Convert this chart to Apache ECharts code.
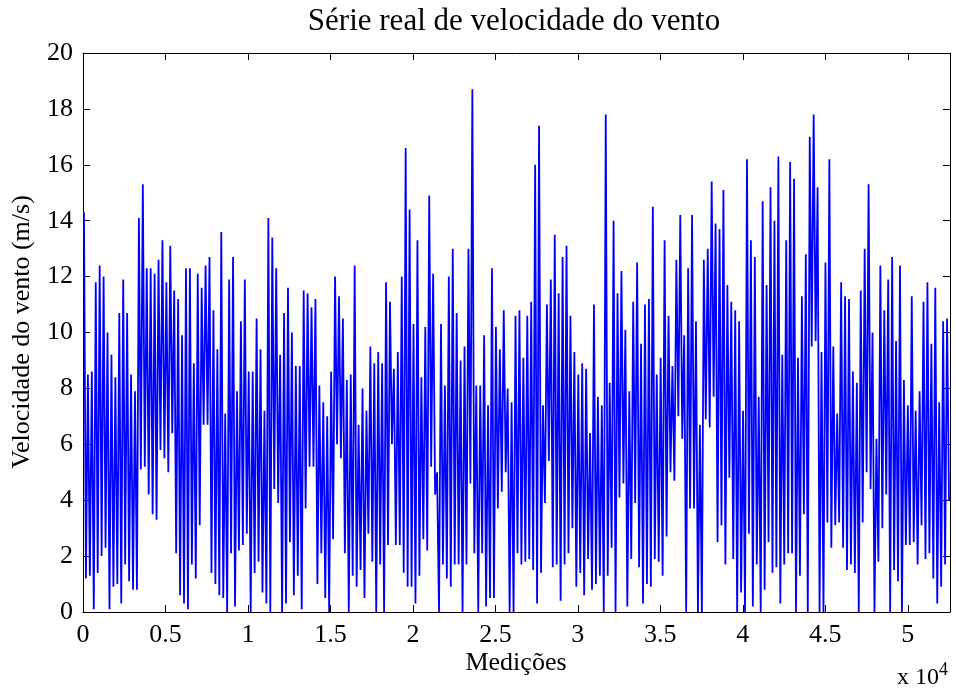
<!DOCTYPE html>
<html>
<head>
<meta charset="utf-8">
<title>Série real de velocidade do vento</title>
<script src="https://cdn.jsdelivr.net/npm/echarts@6/dist/echarts.min.js"></script>
<style>
    html, body { margin: 0; padding: 0; background: #fff; }
    #chart { width: 956px; height: 695px; }
</style>
</head>
<body>
<div id="chart"></div>
<script>
var totalMedicoes = 52560;
var xTicks = [0, 5000, 10000, 15000, 20000, 25000, 30000, 35000, 40000, 45000, 50000];
var yTicks = [0, 2, 4, 6, 8, 10, 12, 14, 16, 18, 20];

var picos = [
    14.3, 8.5, 8.6, 11.8, 12.4, 12.0, 10.0, 9.2, 8.4, 10.7, 11.9, 10.7, 8.5, 7.9, 14.1, 15.3, 12.3, 12.3, 12.1, 12.6, 13.3, 11.8, 13.1, 11.5, 11.2, 9.9, 12.3,
    12.3, 8.9, 12.1, 11.6, 12.4, 12.7, 10.8, 9.4, 13.6, 7.1, 11.9, 12.7, 7.9, 10.4, 11.9, 8.6, 8.6, 10.5, 9.4, 7.2, 14.1, 13.4, 12.3, 9.2, 10.7, 11.6, 10.0, 8.8,
    8.8, 11.5, 11.4, 10.9, 11.2, 8.1, 7.5, 7.0, 8.6, 12.0, 11.3, 10.5, 8.3, 8.5, 12.4, 6.7, 8.0, 7.2, 9.5, 8.9, 9.3, 8.9, 11.8, 11.1, 8.7, 9.3, 12.0, 16.6,
    14.4, 10.3, 13.3, 8.4, 10.2, 14.9, 12.1, 5.0, 10.3, 8.1, 12.0, 13.0, 10.7, 9.0, 9.5, 13.0, 18.7, 8.1, 8.1, 9.9, 7.4, 12.3, 10.2, 9.4, 10.8, 8.0, 7.5, 10.6,
    10.8, 9.1, 10.6, 11.1, 16.0, 17.4, 7.4, 11.0, 11.9, 13.5, 11.4, 12.7, 13.1, 10.6, 9.3, 8.5, 8.9, 8.7, 6.4, 11.0, 7.7, 7.4, 17.8, 8.2, 14.0, 11.4, 12.2, 10.1,
    7.9, 11.1, 12.5, 9.6, 11.0, 11.2, 14.5, 8.5, 9.1, 13.3, 10.6, 8.8, 12.6, 14.2, 9.9, 12.3, 14.2, 10.4, 6.7, 12.6, 13.0, 15.4, 13.9, 13.7, 15.1, 11.7, 11.1, 10.8,
    10.4, 7.2, 16.2, 13.3, 12.7, 7.7, 14.7, 11.7, 15.2, 14.0, 16.3, 9.2, 13.3, 16.1, 15.5, 9.1, 11.3, 12.8, 17.0, 17.8, 15.2, 9.3, 12.5, 16.2, 9.5, 7.1, 11.8, 11.3,
    11.2, 8.6, 8.2, 11.5, 13.0, 15.3, 10.0, 6.2, 12.4, 10.8, 11.9, 12.7, 9.7, 12.4, 8.3, 7.4, 11.3, 7.2, 7.9, 11.1, 11.8, 9.6, 11.6, 7.5, 10.4, 10.5
];
var vales = [
    1.2, 1.3, 0.1, 1.4, 2.0, 2.3, 0.1, 0.9, 1.0, 0.3, 1.7, 1.1, 0.8, 0.8, 5.1, 5.2, 4.2, 3.5, 3.3, 5.8, 5.5, 5.0, 6.4, 2.1, 0.6, 0.3, 0.1,
    1.7, 1.2, 3.1, 6.7, 6.7, 1.4, 1.0, 0.6, 0.5, 0.0, 2.1, 0.2, 2.2, 2.4, 2.8, 0.0, 1.4, 1.8, 0.7, 0.3, 0.0, 4.4, 3.9, 0.0, 0.3, 2.5, 0.6, 1.3,
    0.1, 3.7, 5.2, 5.2, 1.0, 2.1, 0.5, 0.0, 2.6, 6.0, 5.5, 2.1, 0.0, 1.3, 0.9, 1.5, 0.5, 2.8, 1.8, 0.0, 1.7, 0.0, 2.4, 6.0, 2.4, 2.4, 1.4, 0.9,
    0.9, 0.3, 1.3, 2.6, 2.2, 5.2, 4.2, 0.0, 1.7, 1.2, 0.9, 1.7, 1.7, 0.0, 1.7, 4.6, 2.1, 0.0, 2.1, 0.2, 0.5, 0.5, 3.7, 4.3, 5.0, 0.0, 0.0, 2.1,
    1.7, 1.8, 1.9, 1.5, 0.3, 1.4, 3.9, 5.4, 1.6, 1.7, 0.4, 1.7, 2.1, 3.0, 0.9, 1.4, 0.6, 1.9, 0.8, 1.0, 1.3, 0.0, 1.3, 2.3, 0.0, 4.1, 4.6, 0.2,
    1.9, 3.9, 1.6, 0.3, 1.0, 0.9, 1.9, 1.8, 1.3, 2.7, 5.0, 4.7, 7.0, 6.2, 0.0, 3.7, 3.7, 0.0, 0.0, 6.9, 6.6, 7.7, 2.5, 3.1, 1.7, 4.8, 1.9, 0.0,
    0.7, 0.0, 2.8, 0.2, 1.7, 0.0, 0.8, 2.5, 1.4, 1.6, 0.3, 1.7, 2.1, 2.1, 0.0, 1.3, 3.5, 0.0, 9.5, 9.7, 0.0, 0.0, 3.2, 2.3, 3.1, 3.2, 2.3, 1.5,
    1.7, 1.4, 0.0, 3.2, 5.0, 4.4, 0.0, 1.8, 3.0, 4.2, 0.0, 1.5, 1.1, 0.0, 2.4, 2.4, 2.5, 1.7, 3.1, 1.9, 2.1, 1.2, 0.3, 0.9, 1.7, 4.0
];

/*== monta a série: pico e vale alternados em cada trecho ==*/
var passo = totalMedicoes / picos.length;
var serie = [];
for (var i = 0; i < picos.length; i++) {
    serie.push([(i + 0.25) * passo, picos[i]]);
    serie.push([(i + 0.75) * passo, vales[i]]);
}

// copia as opções base do eixo e acrescenta as extras
function copia(base, extra) {
    var out = JSON.parse(JSON.stringify(base));
    for (var k in extra) { out[k] = extra[k]; }
    return out;
}

var fonte = 'Liberation Serif';
var eixoX = {
    type: 'value',
    min: xTicks[0],
    max: totalMedicoes,
    interval: xTicks[1] - xTicks[0],
    splitLine: { show: false },
    axisLine: { show: true, onZero: false, lineStyle: { color: '#000', width: 1 } },
    axisTick: { show: true, inside: true, length: 7, lineStyle: { color: '#000' } }
};
var eixoY = {
    type: 'value',
    min: yTicks[0],
    max: yTicks[yTicks.length - 1],
    interval: yTicks[1] - yTicks[0],
    splitLine: { show: false },
    axisLine: { show: true, onZero: false, lineStyle: { color: '#000', width: 1 } },
    axisTick: { show: true, inside: true, length: 7, lineStyle: { color: '#000' } }
};

var option = {
    animation: false,
    backgroundColor: '#fff',
    grid: { left: 83, right: 6, top: 53, bottom: 83 },
    xAxis: [
        copia(eixoX, {
            position: 'bottom',
            axisLabel: {
                show: true, margin: 10, fontFamily: fonte, fontSize: 26, color: '#000',
                showMaxLabel: false,
                formatter: function (v) {
                    var r = Math.round(v);
                    return xTicks.indexOf(r) >= 0 ? String(r / 10000) : '';
                }
            }
        }),
        copia(eixoX, { position: 'top', axisLabel: { show: false } })
    ],
    yAxis: [
        copia(eixoY, {
            position: 'left',
            axisLabel: { show: true, margin: 10, fontFamily: fonte, fontSize: 26, color: '#000' }
        }),
        copia(eixoY, { position: 'right', axisLabel: { show: false } })
    ],
    graphic: [
        { type: 'text', x: 514, y: 22, style: { text: 'Série real de velocidade do vento', font: '31px "Liberation Serif"', fill: '#000', align: 'center', verticalAlign: 'middle' } },
        { type: 'text', x: 516, y: 663, style: { text: 'Medições', font: '26px "Liberation Serif"', fill: '#000', align: 'center', verticalAlign: 'middle' } },
        { type: 'text', x: 22, y: 332, rotation: Math.PI / 2, style: { text: 'Velocidade do vento (m/s)', font: '26px "Liberation Serif"', fill: '#000', align: 'center', verticalAlign: 'middle' } },
        { type: 'text', x: 897, y: 678, style: {
            text: '{b|x 10}{s|4}', fill: '#000', verticalAlign: 'middle',
            rich: {
                b: { fontFamily: fonte, fontSize: 24, fill: '#000' },
                s: { fontFamily: fonte, fontSize: 18, fill: '#000', verticalAlign: 'top', padding: [0, 0, 16, 0] }
            }
        } }
    ],
    series: [
        {
            type: 'line',
            data: serie,
            showSymbol: false,
            sampling: false,
            clip: true,
            lineStyle: { color: '#0000ff', width: 1.8 }
        }
    ]
};

var myChart = echarts.init(document.getElementById('chart'));
myChart.setOption(option);
</script>
</body>
</html>
